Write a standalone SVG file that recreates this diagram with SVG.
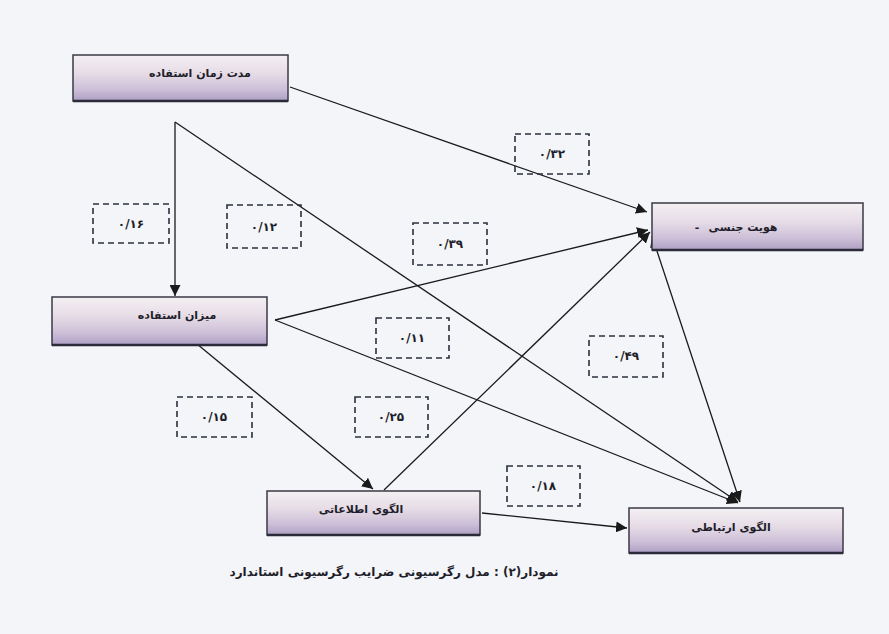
<svg xmlns="http://www.w3.org/2000/svg" width="889" height="634" viewBox="0 0 889 634">
<defs>
<linearGradient id="nodeFill" x1="0" y1="0" x2="0" y2="1">
<stop offset="0" stop-color="#f4f0f3"/>
<stop offset="0.4" stop-color="#e6dce6"/>
<stop offset="0.75" stop-color="#cdbfd8"/>
<stop offset="1" stop-color="#ad9fc2"/>
</linearGradient>
<linearGradient id="topEdge" x1="0" y1="0" x2="1" y2="0">
<stop offset="0" stop-color="#6a6a50"/>
<stop offset="0.5" stop-color="#e6c64a"/>
<stop offset="1" stop-color="#d0603a"/>
</linearGradient>
<marker id="arr" viewBox="0 0 10 10" refX="10" refY="5" markerWidth="11" markerHeight="11" markerUnits="userSpaceOnUse" orient="auto-start-reverse">
<path d="M0,0 L10,5 L0,10 z" fill="#1a1a1a"/>
</marker>
<style>
.node{fill:url(#nodeFill);stroke:#3a3a44;stroke-width:1.5}
.top{stroke:url(#topEdge);stroke-width:2}
.bot{stroke:#2a2a38;stroke-width:2.5}
.nt{font-family:"DejaVu Sans",sans-serif;font-size:11px;font-weight:bold;fill:#1e1e2a;text-anchor:middle;direction:rtl}
.lb{fill:none;stroke:#2b303c;stroke-width:1.6;stroke-dasharray:6 4}
.lt{font-family:"DejaVu Sans",sans-serif;font-size:12px;font-weight:bold;fill:#1e1e2a;text-anchor:middle}
.cn{stroke:#1a1a1a;stroke-width:1.3;fill:none}
</style>
</defs>
<rect width="889" height="634" fill="#f3f5f8"/>
<g id="connectors">
<line class="cn" x1="290" y1="87" x2="647" y2="212" marker-end="url(#arr)"/>
<line class="cn" x1="175" y1="122" x2="175" y2="296" marker-end="url(#arr)"/>
<line class="cn" x1="175" y1="122" x2="738" y2="502" marker-end="url(#arr)"/>
<line class="cn" x1="275" y1="320" x2="648" y2="230" marker-end="url(#arr)"/>
<line class="cn" x1="275" y1="320" x2="738" y2="503" marker-end="url(#arr)"/>
<line class="cn" x1="197" y1="344" x2="373" y2="489" marker-end="url(#arr)"/>
<line class="cn" x1="384" y1="490" x2="650" y2="232" marker-end="url(#arr)"/>
<line class="cn" x1="482" y1="513" x2="627" y2="528" marker-end="url(#arr)"/>
<line class="cn" x1="652" y1="236" x2="740" y2="502" marker-start="url(#arr)" marker-end="url(#arr)"/>
</g>
<g id="node-modat">
<rect class="node" x="73" y="55" width="215" height="46"/>
<line class="top" x1="73" y1="55" x2="288" y2="55"/>
<line class="bot" x1="73" y1="101" x2="288" y2="101"/>
<text class="nt" x="200" y="77">مدت زمان استفاده</text>
</g>
<g id="node-hoviyat">
<rect class="node" x="652" y="203" width="211" height="47"/>
<line class="top" x1="652" y1="203" x2="863" y2="203"/>
<line class="bot" x1="652" y1="250" x2="863" y2="250"/>
<text class="nt" x="743" y="231">هویت جنسی</text>
<text class="nt" x="697" y="231">-</text>
</g>
<g id="node-mizan">
<rect class="node" x="52" y="297" width="215" height="48"/>
<line class="top" x1="52" y1="297" x2="267" y2="297"/>
<line class="bot" x1="52" y1="345" x2="267" y2="345"/>
<text class="nt" x="177" y="319">میزان استفاده</text>
</g>
<g id="node-etelaati">
<rect class="node" x="267" y="491" width="213" height="44"/>
<line class="top" x1="267" y1="491" x2="480" y2="491"/>
<line class="bot" x1="267" y1="535" x2="480" y2="535"/>
<text class="nt" x="361" y="513">الگوی اطلاعاتی</text>
</g>
<g id="node-ertebati">
<rect class="node" x="629" y="508" width="214" height="45"/>
<line class="top" x1="629" y1="508" x2="843" y2="508"/>
<line class="bot" x1="629" y1="553" x2="843" y2="553"/>
<text class="nt" x="731" y="531">الگوی ارتباطی</text>
</g>
<g id="labels">
<rect class="lb" x="515" y="134" width="74" height="40"/><text class="lt" x="552" y="158">۰/۳۲</text>
<rect class="lb" x="413" y="223" width="74" height="42"/><text class="lt" x="450" y="248">۰/۳۹</text>
<rect class="lb" x="93" y="204" width="76" height="39"/><text class="lt" x="131" y="228">۰/۱۶</text>
<rect class="lb" x="227" y="205" width="74" height="43"/><text class="lt" x="264" y="231">۰/۱۲</text>
<rect class="lb" x="376" y="318" width="73" height="40"/><text class="lt" x="412" y="342">۰/۱۱</text>
<rect class="lb" x="177" y="397" width="75" height="40"/><text class="lt" x="214" y="421">۰/۱۵</text>
<rect class="lb" x="355" y="397" width="73" height="40"/><text class="lt" x="391" y="421">۰/۲۵</text>
<rect class="lb" x="589" y="336" width="74" height="41"/><text class="lt" x="626" y="360">۰/۴۹</text>
<rect class="lb" x="507" y="466" width="73" height="40"/><text class="lt" x="543" y="490">۰/۱۸</text>
</g>
<text x="394" y="576" font-family="DejaVu Sans, sans-serif" font-size="12" font-weight="bold" fill="#1e1e2a" text-anchor="middle" direction="rtl">نمودار(۲) : مدل رگرسیونی ضرایب رگرسیونی استاندارد</text>
</svg>
